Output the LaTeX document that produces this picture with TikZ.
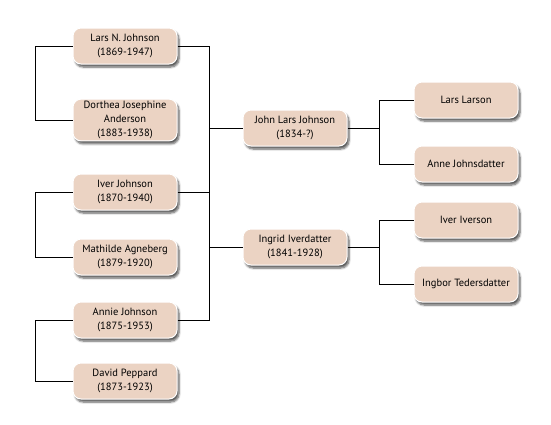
\documentclass[tikz,border=0pt]{standalone}
\usepackage{fontspec}
\setmainfont{PT Sans}
\usepackage{tikz}
\usetikzlibrary{shadows.blur}

\begin{document}
\begin{tikzpicture}[x=1pt,y=-1pt,
	person/.style={draw=white, line width=1pt, fill=boxfill, rounded corners=8pt,
		minimum width=104pt, minimum height=36pt, align=center, inner sep=2pt,
		font=\fontsize{10.5}{14}\selectfont, text=black,
		blur shadow={shadow xshift=2pt, shadow yshift=-3pt, shadow opacity=65, shadow blur steps=6}},
	link/.style={draw=black, line width=0.9pt}]
\definecolor{boxfill}{HTML}{EBD3C3}
\useasboundingbox (0,0) rectangle (551,424);
\node[person] (lars)     at (125,46)  {Lars N. Johnson\\(1869-1947)};
\node[person] (dorthea)  at (125,120) {Dorthea Josephine\\Anderson\\(1883-1938)};
\node[person] (iver)     at (125,192) {Iver Johnson\\(1870-1940)};
\node[person] (mathilde) at (125,257) {Mathilde Agneberg\\(1879-1920)};
\node[person] (annie)    at (125,320) {Annie Johnson\\(1875-1953)};
\node[person] (david)    at (125,381) {David Peppard\\(1873-1923)};
\node[person] (john)     at (295,128) {John Lars Johnson\\(1834-?)};
\node[person] (ingrid)   at (295,247) {Ingrid Iverdatter\\(1841-1928)};
\node[person] (larson)   at (466,100) {Lars Larson};
\node[person] (anne)     at (466,164) {Anne Johnsdatter};
\node[person] (iverson)  at (466,220) {Iver Iverson};
\node[person] (ingbor)   at (466,284) {Ingbor Tedersdatter};
% couples
\path[link] (lars.west) -- ++(-37,0) |- (dorthea.west)
	(iver.west) -- ++(-37,0) |- (mathilde.west)
	(annie.west) -- ++(-37,0) |- (david.west);
% children to parents
\path[link] (lars.east) -- ++(32,0) coordinate (bustop)
	(annie.east) -- ++(32,0) coordinate (busbot)
	(bustop) -- (busbot)
	(iver.east) -- (iver.east -| bustop)
	(john.west) -- (john.west -| bustop)
	(ingrid.west) -- (ingrid.west -| bustop);
\path[link] (john.east) -- ++(32,0) coordinate (jp)
	(larson.west) -| (jp) |- (anne.west)
	(ingrid.east) -- ++(32,0) coordinate (ip)
	(iverson.west) -| (ip) |- (ingbor.west);
\end{tikzpicture}
\end{document}
